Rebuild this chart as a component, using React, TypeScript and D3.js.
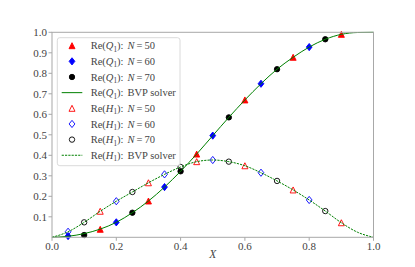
import React from 'react';
import * as d3 from 'd3';

// BVP solver curves, sampled every 0.05 in X
const xGrid = [0, 0.05, 0.1, 0.15, 0.2, 0.25, 0.3, 0.35, 0.4, 0.45, 0.5, 0.55, 0.6, 0.65, 0.7, 0.75, 0.8, 0.85, 0.9, 0.95, 1.0];
const qBvp = [0, 0.005, 0.018, 0.04, 0.073, 0.12, 0.177, 0.245, 0.322, 0.406, 0.496, 0.585, 0.67, 0.749, 0.82, 0.878, 0.928, 0.966, 0.99, 0.999, 1.0];
const hBvp = [0, 0.027, 0.073, 0.127, 0.176, 0.221, 0.266, 0.307, 0.343, 0.369, 0.377, 0.369, 0.349, 0.315, 0.275, 0.231, 0.182, 0.128, 0.071, 0.025, 0];

// collocation results
const x50 = [0.15, 0.3, 0.45, 0.6, 0.75, 0.9];
const q50 = [0.039, 0.177, 0.406, 0.67, 0.878, 0.99];
const h50 = [0.127, 0.266, 0.369, 0.349, 0.231, 0.071];
const x60 = [0.05, 0.2, 0.35, 0.5, 0.65, 0.8];
const q60 = [0.006, 0.073, 0.245, 0.496, 0.749, 0.928];
const h60 = [0.027, 0.176, 0.307, 0.377, 0.315, 0.182];
const x70 = [0.1, 0.25, 0.4, 0.55, 0.7, 0.85];
const q70 = [0.011, 0.12, 0.322, 0.585, 0.82, 0.966];
const h70 = [0.073, 0.221, 0.343, 0.369, 0.275, 0.128];

const xTicks = [0, 0.2, 0.4, 0.6, 0.8, 1.0];
const yTicks = [0.1, 0.2, 0.3, 0.4, 0.5, 0.6, 0.7, 0.8, 0.9, 1.0];

const W = 415;
const H = 267;
const margin = { top: 32.3, right: 41.5, bottom: 29.7, left: 52 };
const FONT = '"Liberation Serif", "DejaVu Serif", serif';
const spine = '#a8a8a8';
const labelColor = '#444';

type Kind = 'tri' | 'dia' | 'circ';

const Marker = ({ kind, cx, cy, color, filled }: { kind: Kind; cx: number; cy: number; color: string; filled: boolean }) => {
  const fill = filled ? color : 'none';
  const sw = 0.9;
  if (kind === 'tri') {
    const r = 3.0;
    const pts = `${cx},${cy - r} ${cx - r},${cy + r} ${cx + r},${cy + r}`;
    return <polygon points={pts} fill={fill} stroke={color} strokeWidth={sw} />;
  }
  if (kind === 'dia') {
    const r = 3.6;
    const pts = `${cx},${cy - r} ${cx - r * 0.8},${cy} ${cx},${cy + r} ${cx + r * 0.8},${cy}`;
    return <polygon points={pts} fill={fill} stroke={color} strokeWidth={sw} />;
  }
  return <circle cx={cx} cy={cy} r={2.7} fill={fill} stroke={color} strokeWidth={sw} />;
};

const LegendLabel = ({ x, y, sym, tail }: { x: number; y: number; sym: string; tail: string }) => (
  <text x={x} y={y} fontFamily={FONT} fontSize={10.5} fill={labelColor}>
    Re(<tspan fontStyle="italic">{sym}</tspan>
    <tspan fontSize={7.2} dy={2.5}>1</tspan>
    <tspan dy={-2.5}>):</tspan>
    {tail === 'BVP solver' ? (
      <tspan dx={4}>BVP solver</tspan>
    ) : (
      <>
        <tspan dx={4} fontStyle="italic">N</tspan>
        <tspan dx={2}>=</tspan>
        <tspan dx={2}>{tail}</tspan>
      </>
    )}
  </text>
);

export default function App() {
  const iw = W - margin.left - margin.right;
  const ih = H - margin.top - margin.bottom;
  const x = d3.scaleLinear().domain([0, 1]).range([margin.left, margin.left + iw]);
  const y = d3.scaleLinear().domain([0, 1]).range([margin.top + ih, margin.top]);

  const line = d3
    .line<number>()
    .x((_, i) => x(xGrid[i]))
    .y((d) => y(d))
    .curve(d3.curveMonotoneX);

  const series = [
    { xs: x50, ys: q50, kind: 'tri' as Kind, color: '#ff0000', filled: true },
    { xs: x60, ys: q60, kind: 'dia' as Kind, color: '#0000ff', filled: true },
    { xs: x70, ys: q70, kind: 'circ' as Kind, color: '#000000', filled: true },
    { xs: x50, ys: h50, kind: 'tri' as Kind, color: '#ff0000', filled: false },
    { xs: x60, ys: h60, kind: 'dia' as Kind, color: '#0000ff', filled: false },
    { xs: x70, ys: h70, kind: 'circ' as Kind, color: '#000000', filled: false },
  ];

  const legendRows = [
    { sym: 'Q', tail: '50', kind: 'tri' as Kind, color: '#ff0000', filled: true },
    { sym: 'Q', tail: '60', kind: 'dia' as Kind, color: '#0000ff', filled: true },
    { sym: 'Q', tail: '70', kind: 'circ' as Kind, color: '#000000', filled: true },
    { sym: 'Q', tail: 'BVP solver', line: 'solid' },
    { sym: 'H', tail: '50', kind: 'tri' as Kind, color: '#ff0000', filled: false },
    { sym: 'H', tail: '60', kind: 'dia' as Kind, color: '#0000ff', filled: false },
    { sym: 'H', tail: '70', kind: 'circ' as Kind, color: '#000000', filled: false },
    { sym: 'H', tail: 'BVP solver', line: 'dashed' },
  ];

  const lgX = 57.3;
  const lgY = 37.7;
  const lgW = 122.7;
  const lgH = 128;
  const rowY0 = 45.7;
  const rowStep = 15.65;

  return (
    <svg width={W} height={H} style={{ position: 'absolute', left: 0, top: 0 }}>
      <rect width={W} height={H} fill="#fff" />

      {/* markers */}
      {series.map((s, si) =>
        s.xs.map((xv, i) => (
          <Marker key={`${si}-${i}`} kind={s.kind} cx={x(xv)} cy={y(s.ys[i])} color={s.color} filled={s.filled} />
        ))
      )}

      {/* BVP curves */}
      <path d={line(qBvp) ?? ''} fill="none" stroke="#008000" strokeWidth={1} />
      <path d={line(hBvp) ?? ''} fill="none" stroke="#008000" strokeWidth={1} strokeDasharray="2.2,1.1" />

      {/* spines */}
      <rect x={margin.left} y={margin.top} width={iw} height={ih} fill="none" stroke={spine} strokeWidth={1} />

      {/* x axis */}
      {xTicks.map((t) => (
        <g key={`x${t}`}>
          <line x1={x(t)} x2={x(t)} y1={y(0)} y2={y(0) + 3.5} stroke={spine} />
          <text x={x(t)} y={y(0) + 13} textAnchor="middle" fontFamily={FONT} fontSize={11} fill={labelColor}>
            {t.toFixed(1)}
          </text>
        </g>
      ))}
      <text x={x(0.5)} y={258} textAnchor="middle" fontFamily={FONT} fontStyle="italic" fontSize={11.5} fill={labelColor}>
        X
      </text>

      {/* y axis */}
      {yTicks.map((t) => (
        <g key={`y${t}`}>
          <line x1={margin.left - 3.5} x2={margin.left} y1={y(t)} y2={y(t)} stroke={spine} />
          <text x={margin.left - 5} y={y(t) + 3.7} textAnchor="end" fontFamily={FONT} fontSize={11} fill={labelColor}>
            {t.toFixed(1)}
          </text>
        </g>
      ))}

      {/* legend */}
      <rect x={lgX} y={lgY} width={lgW} height={lgH} rx={2.5} fill="#fff" fillOpacity={0.8} stroke="#d0d0d0" strokeWidth={0.8} />
      {legendRows.map((r, i) => {
        const cy = rowY0 + i * rowStep;
        return (
          <g key={`lg${i}`}>
            {r.line ? (
              <line
                x1={61.7}
                x2={82.3}
                y1={cy}
                y2={cy}
                stroke="#008000"
                strokeWidth={1}
                strokeDasharray={r.line === 'dashed' ? '2.2,1.1' : undefined}
              />
            ) : (
              <Marker kind={r.kind as Kind} cx={72} cy={cy} color={r.color as string} filled={r.filled as boolean} />
            )}
            <LegendLabel x={90.7} y={cy + 3.6} sym={r.sym} tail={r.tail} />
          </g>
        );
      })}
    </svg>
  );
}
